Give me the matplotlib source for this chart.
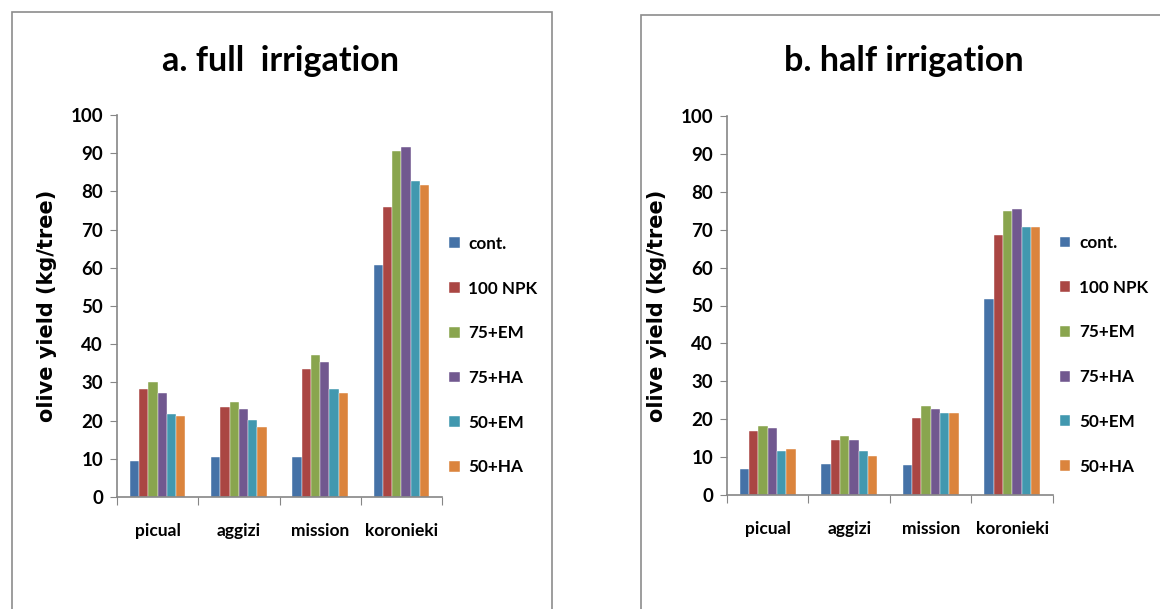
import numpy as np
import matplotlib
matplotlib.use('Agg')
import matplotlib.pyplot as plt
from matplotlib.patches import Rectangle

# data
cultivars = ['picual', 'aggizi', 'mission', 'koronieki']
treatments = ['cont.', '100 NPK', '75+EM', '75+HA', '50+EM', '50+HA']
colors = ['#4572A7', '#AA4643', '#89A54E', '#71588F', '#4198AF', '#DB843D']

full_cont = [9.3, 10.6, 10.6, 60.7]
full_npk = [28.2, 23.5, 33.5, 76.0]
full_75em = [30.1, 24.9, 37.3, 90.7]
full_75ha = [27.2, 23.0, 35.4, 91.6]
full_50em = [21.6, 20.1, 28.3, 82.7]
full_50ha = [21.1, 18.3, 27.3, 81.7]

half_cont = [6.9, 8.3, 7.8, 51.6]
half_npk = [16.9, 14.5, 20.3, 68.7]
half_75em = [18.3, 15.5, 23.5, 75.0]
half_75ha = [17.8, 14.5, 22.6, 75.4]
half_50em = [11.7, 11.7, 21.6, 70.7]
half_50ha = [12.1, 10.2, 21.6, 70.7]

full = [full_cont, full_npk, full_75em, full_75ha, full_50em, full_50ha]
half = [half_cont, half_npk, half_75em, half_75ha, half_50em, half_50ha]

lab_font = 'Lato'
grey = '#868686'

fig = plt.figure(figsize=(11.6, 6.09), dpi=100)
W, H = 1160, 609

def px(x0, y0, x1, y1):
    # pixel box (top-left origin) -> figure fraction rect
    return [x0 / W, 1 - y1 / H, (x1 - x0) / W, (y1 - y0) / H]

# panel frames
for (x0, y0) in [(12, 12), (641, 15)]:
    fig.patches.append(Rectangle((x0 / W, -0.1), (540) / W, 1 - y0 / H + 0.1,
                                 transform=fig.transFigure, fill=False,
                                 edgecolor='#8c8c8c', linewidth=1.2))

def panel(rect, series, title, title_x):
    ax = fig.add_axes(rect)
    x = np.arange(len(cultivars))
    bw = 0.114
    for i, vals in enumerate(series):
        ax.bar(x + (i - 2.5) * bw, vals, width=bw, color=colors[i],
               label=treatments[i], edgecolor='white', linewidth=0.3)
    ax.set_xlim(-0.5, 3.5)
    ax.set_ylim(0, 100)
    ax.set_yticks(np.arange(0, 101, 10))
    ax.set_xticks(np.arange(-0.5, 4, 1))
    ax.set_xticklabels([])
    ax.set_xticks(x, minor=True)
    ax.set_xticklabels(cultivars, minor=True, fontfamily=lab_font,
                       fontweight='bold', fontsize=12.5)
    ax.tick_params(axis='x', which='minor', length=0, pad=19)
    ax.tick_params(axis='x', which='major', length=6, color=grey, direction='out')
    ax.tick_params(axis='y', length=5, color=grey, pad=5)
    for t in ax.get_yticklabels():
        t.set_fontfamily(lab_font)
        t.set_fontweight('bold')
        t.set_fontsize(13.5)
    for s in ['top', 'right']:
        ax.spines[s].set_visible(False)
    for s in ['left', 'bottom']:
        ax.spines[s].set_color(grey)
        ax.spines[s].set_linewidth(1.2)
    ax.set_ylabel('olive yield (kg/tree)', fontfamily='DejaVu Sans',
                  fontweight='bold', fontsize=15, labelpad=10)
    fig.text(title_x / W, 1 - 61 / H, title, ha='center', va='center',
             fontfamily=lab_font, fontweight='bold', fontsize=24.5)
    ax.legend(loc='center left', bbox_to_anchor=(0.975, 0.37), frameon=False,
              handlelength=0.6, handleheight=0.6, handletextpad=0.5,
              labelspacing=1.68, prop={'family': lab_font, 'weight': 'bold',
                                       'size': 12.3})
    return ax

panel(px(117, 115, 442, 497), full, 'a. full  irrigation', 281)
panel(px(727, 116, 1053, 495), half, 'b. half irrigation', 904)

fig.savefig('out.png', dpi=100)
